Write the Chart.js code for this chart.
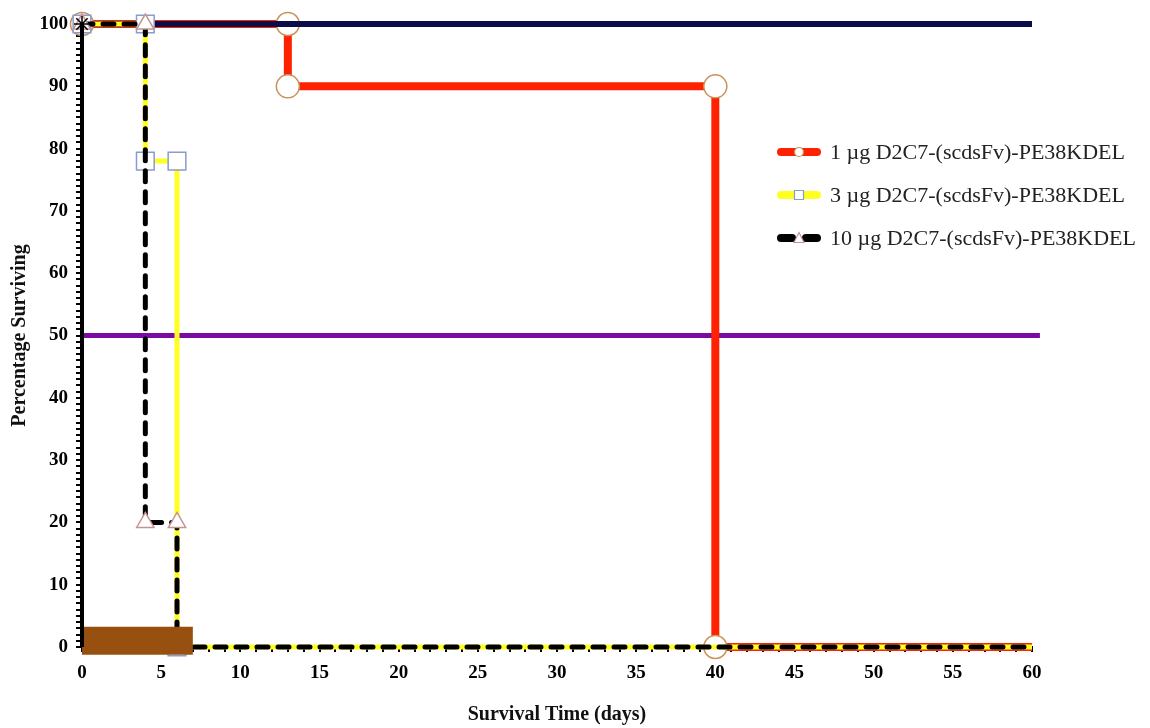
<!DOCTYPE html>
<html>
<head>
<meta charset="utf-8">
<script src="https://cdn.jsdelivr.net/npm/chart.js@4"></script>
<style>
body{margin:0;background:#fff;}
#wrap{position:relative;width:1150px;height:728px;}
#legend{position:absolute;left:776px;top:137px;font-family:'Liberation Serif','Times New Roman',serif;font-size:22px;color:#222;}
.row{display:flex;align-items:center;height:30px;margin-bottom:13px;white-space:nowrap;}
.row canvas{margin-right:8px;}
</style>
</head>
<body>
<div id="wrap">
<canvas id="c" width="1150" height="728"></canvas>
<div id="legend"></div>
</div>
<script>
'use strict';

// survival curves, day / percent surviving
const redDays = [0, 13, 13, 40, 40, 60];
const redPct = [100, 100, 90, 90, 0, 0];
const yellowDays = [0, 4, 4, 6, 6, 60];
const yellowPct = [100, 100, 78, 78, 0, 0];
const blackDays = [0, 4, 4, 6, 6, 60];
const blackPct = [100, 100, 20, 20, 0, 0];
const controlDays = [0, 0];
const controlPct = [100, 0];
// reference lines at 100% and 50%
const topDays = [0, 60];
const topPct = [100, 100];
const halfDays = [0, 60.5];
const halfPct = [50, 50];
// treatment window
const treatDays = [0, 7];
const treatLevel = [1, 1];

const groupNames = [
	'1 µg D2C7-(scdsFv)-PE38KDEL',
	'3 µg D2C7-(scdsFv)-PE38KDEL',
	'10 µg D2C7-(scdsFv)-PE38KDEL'
];

function pts(xs, ys){
	return xs.map((x, i) => ({x: x, y: ys[i]}));
}

// no marker on the last point of a curve
function markerSize(r){
	return (ctx) => ctx.dataIndex === ctx.dataset.data.length - 1 ? 0 : r;
}

const tickFont = {family: "'Liberation Serif','Times New Roman',serif", size: 19, weight: 'bold'};
const titleFont = {family: "'Liberation Serif','Times New Roman',serif", size: 20, weight: 'bold'};

new Chart(document.getElementById('c'), {
	type: 'line',
	data: {
		datasets: [
			{
				label: 'control',
				data: pts(controlDays, controlPct),
				borderColor: '#000',
				borderWidth: 4,
				pointStyle: 'star',
				pointRadius: [8, 0],
				pointBorderColor: '#000',
				pointBorderWidth: 1.5,
				clip: false
			},
			{
				label: 'treatment',
				data: pts(treatDays, treatLevel),
				borderColor: '#97500f',
				borderWidth: 28,
				borderCapStyle: 'butt',
				pointRadius: 0,
				clip: false
			},
			{
				label: groupNames[2],
				data: pts(blackDays, blackPct),
				borderColor: '#000',
				borderWidth: 5,
				borderDash: [11, 10],
				borderCapStyle: 'round',
				pointStyle: 'triangle',
				pointRadius: markerSize(10),
				pointBackgroundColor: '#fff',
				pointBorderColor: '#c49494',
				pointBorderWidth: 1.5,
				clip: false
			},
			{
				label: groupNames[1],
				data: pts(yellowDays, yellowPct),
				borderColor: '#ffff22',
				borderWidth: 5,
				borderJoinStyle: 'miter',
				pointStyle: 'rect',
				pointRadius: markerSize(12.5),
				pointBackgroundColor: '#fff',
				pointBorderColor: '#8a9ccc',
				pointBorderWidth: 1.5,
				clip: false
			},
			{
				label: 'top',
				data: pts(topDays, topPct),
				borderColor: '#0c0c4a',
				borderWidth: 6,
				pointRadius: 0,
				clip: false
			},
			{
				label: groupNames[0],
				data: pts(redDays, redPct),
				borderColor: '#ff2200',
				borderWidth: 8,
				borderJoinStyle: 'miter',
				pointStyle: 'circle',
				pointRadius: markerSize(11.5),
				pointBackgroundColor: '#fff',
				pointBorderColor: '#c8925a',
				pointBorderWidth: 1.5,
				clip: false
			},
			{
				label: 'half',
				data: pts(halfDays, halfPct),
				borderColor: '#7a0aa2',
				borderWidth: 5,
				pointRadius: 0,
				clip: false
			}
		]
	},
	options: {
		responsive: false,
		animation: false,
		events: [],
		layout: {padding: {top: 24, right: 118, left: 0, bottom: 0}},
		plugins: {legend: {display: false}, tooltip: {enabled: false}},
		scales: {
			x: {
				type: 'linear',
				min: 0,
				max: 60,
				afterFit: (s) => { s.height = 81; },
				border: {display: true, color: '#000', width: 2},
				grid: {drawOnChartArea: false, drawTicks: true, tickLength: 5, color: '#000', lineWidth: 2},
				ticks: {
					stepSize: 1,
					autoSkip: false,
					maxRotation: 0,
					padding: 10,
					color: '#000',
					font: tickFont,
					callback: (v) => v % 5 === 0 ? v : ''
				},
				title: {display: true, text: 'Survival Time (days)', color: '#111', font: titleFont, padding: {top: 0, bottom: 1}}
			},
			y: {
				min: 0,
				max: 100,
				afterFit: (s) => { s.width = 82; },
				border: {display: true, color: '#000', width: 4},
				grid: {drawOnChartArea: false, drawTicks: true, tickLength: 6, color: '#000', lineWidth: 2},
				ticks: {
					stepSize: 1,
					autoSkip: false,
					padding: 8,
					color: '#000',
					font: tickFont,
					callback: (v) => v % 10 === 0 ? v : ''
				},
				title: {display: true, text: 'Percentage Surviving', color: '#111', font: titleFont, padding: {top: 8, bottom: 0}}
			}
		}
	}
});

// legend rows: short line with the group's marker in the middle
function drawKey(cv, color, dashed, shape, edge){
	let g = cv.getContext('2d');
	g.lineWidth = 8;
	g.lineCap = 'round';
	g.strokeStyle = color;
	g.beginPath();
	if(dashed){
		g.moveTo(5, 10); g.lineTo(16, 10);
		g.moveTo(30, 10); g.lineTo(41, 10);
	}else{
		g.moveTo(5, 10); g.lineTo(41, 10);
	}
	g.stroke();
	g.fillStyle = '#fff';
	g.strokeStyle = edge;
	g.lineWidth = 1.2;
	g.beginPath();
	if(shape == 'circle'){
		g.arc(23, 10, 4.5, 0, Math.PI * 2);
	}else if(shape == 'rect'){
		g.rect(18.5, 5.5, 9, 9);
	}else{
		g.moveTo(23, 4.5); g.lineTo(28, 14.5); g.lineTo(18, 14.5); g.closePath();
	}
	g.fill();
	g.stroke();
}

const keyStyles = [
	['#ff2200', false, 'circle', '#c8925a'],
	['#ffff22', false, 'rect', '#8a9ccc'],
	['#000', true, 'triangle', '#c49494']
];
let legend = document.getElementById('legend');
for(let n = 0; n < groupNames.length; n++){
	let row = document.createElement('div');
	row.className = 'row';
	let cv = document.createElement('canvas');
	cv.width = 46;
	cv.height = 20;
	drawKey(cv, ...keyStyles[n]);
	let label = document.createElement('span');
	label.textContent = groupNames[n];
	row.appendChild(cv);
	row.appendChild(label);
	legend.appendChild(row);
}
</script>
</body>
</html>
